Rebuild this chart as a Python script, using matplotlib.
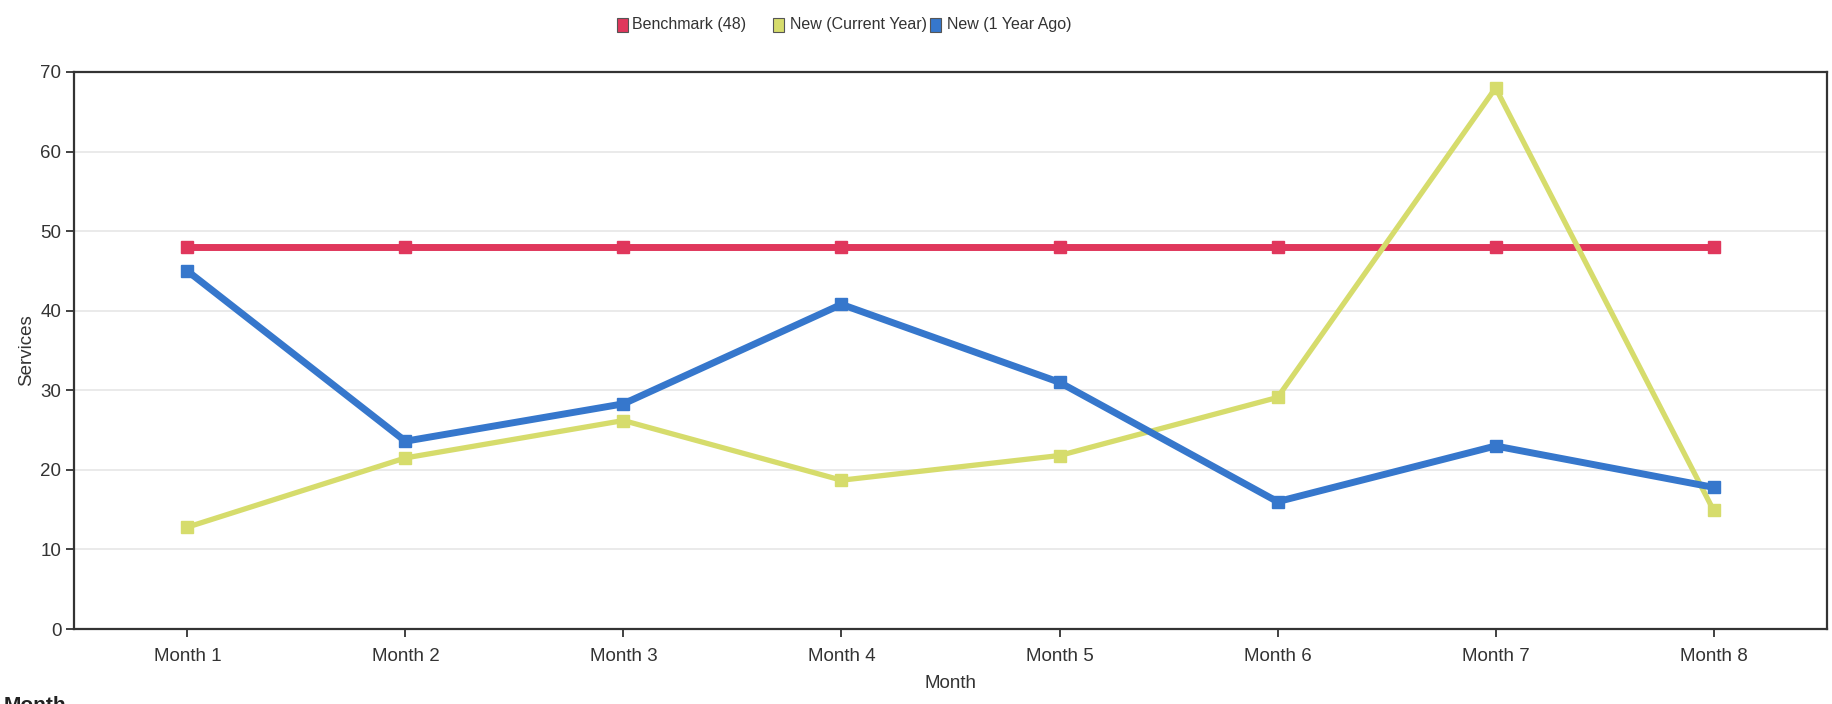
import matplotlib
matplotlib.use("Agg")
import matplotlib.pyplot as plt
from matplotlib.patches import Rectangle

plt.rcParams["font.family"] = ["Liberation Sans", "DejaVu Sans"]

months = ["Month 1", "Month 2", "Month 3", "Month 4",
          "Month 5", "Month 6", "Month 7", "Month 8"]
benchmark = [48, 48, 48, 48, 48, 48, 48, 48]
current_year = [12.8, 21.5, 26.2, 18.7, 21.8, 29.1, 68.0, 14.9]
one_year_ago = [45.0, 23.6, 28.3, 40.8, 31.0, 16.0, 23.0, 17.8]
y_ticks = [0, 10, 20, 30, 40, 50, 60, 70]

series_names = ["Benchmark (48)", "New (Current Year)", "New (1 Year Ago)"]
red = "#e0375c"
yellow = "#d6dc6c"
blue = "#3677cc"

W, H = 1833, 704
fig = plt.figure(figsize=(W / 100, H / 100), dpi=100)
fig.patch.set_facecolor("white")

left, right, top, bottom = 74, 1827, 72, 629
ax = fig.add_axes([left / W, 1 - bottom / H, (right - left) / W, (bottom - top) / H])

x = list(range(len(months)))
ax.plot(x, benchmark, color=red, lw=5, marker="s", ms=9, zorder=3)
ax.plot(x, current_year, color=yellow, lw=3.8, marker="s", ms=8, zorder=4)
ax.plot(x, one_year_ago, color=blue, lw=5, marker="s", ms=9, zorder=5)

ax.set_xlim(-0.52, 7.52)
ax.set_ylim(0, 70)
ax.set_yticks(y_ticks)
ax.set_xticks(x)
ax.set_xticklabels(months)
ax.yaxis.grid(True, color="#e6e6e6", lw=1.2)
ax.set_axisbelow(True)

for s in ax.spines.values():
    s.set_color("#333333")
    s.set_linewidth(1.6)

ax.tick_params(axis="both", colors="#333333", labelcolor="#333333",
               labelsize=13.5, length=6, width=1.3, direction="out")
ax.tick_params(axis="y", pad=3)
ax.tick_params(axis="x", pad=8)

ax.set_xlabel("Month", fontsize=13.5, color="#333333", labelpad=7)
ax.set_ylabel("Services", fontsize=13.5, color="#333333", labelpad=4)

# Legend drawn across the top of the figure
legend_items = [
    (617, 632, red, series_names[0]),
    (773, 790, yellow, series_names[1]),
    (930, 947, blue, series_names[2]),
]
for px, tx, col, label in legend_items:
    fig.patches.append(Rectangle((px / W, 1 - 32 / H), 11 / W, 14 / H,
                                 transform=fig.transFigure, facecolor=col,
                                 edgecolor="#555555", lw=0.8))
    fig.text(tx / W, 1 - 25 / H, label, fontsize=11.5, color="#333333",
             va="center", ha="left")

# Section heading partly cut off at the bottom edge
fig.text(4 / W, 1 - 696 / H, "Month", fontsize=15, fontweight="bold",
         color="#222222", va="top", ha="left")

fig.savefig("out.png", dpi=100, facecolor="white")
